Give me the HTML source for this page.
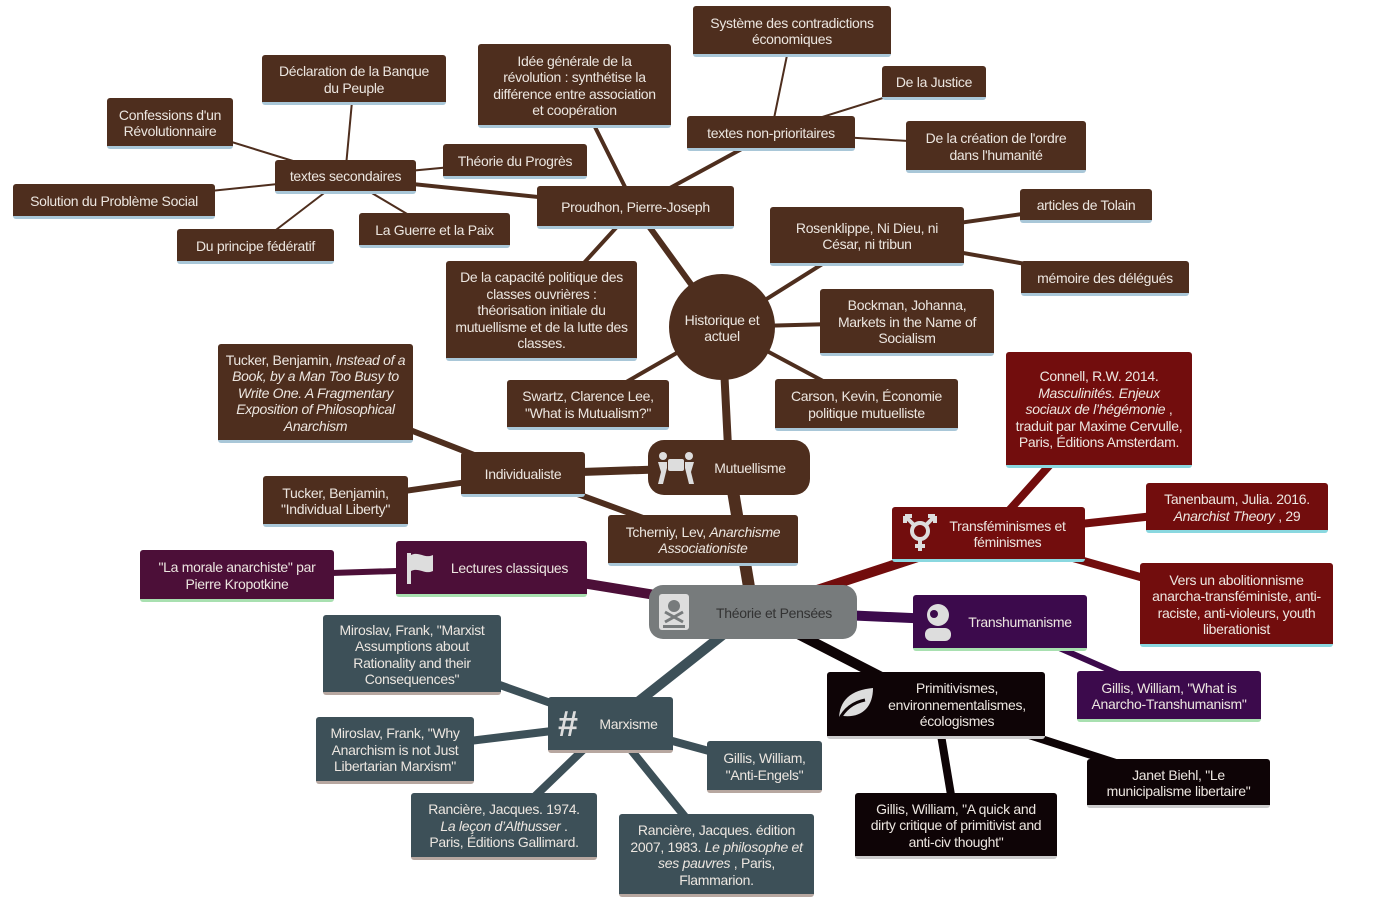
<!DOCTYPE html>
<html><head><meta charset="utf-8"><style>
body{margin:0;width:1376px;height:908px;background:#fff;position:relative;overflow:hidden;font-family:"Liberation Sans",sans-serif}
.b{position:absolute;box-sizing:border-box;display:flex;align-items:center;justify-content:center;text-align:center;color:#ece6e0;font-size:14px;line-height:16.5px;background:#4e2e1e;border-radius:3px;border-bottom:3px solid #a9c7d8;padding:2px 8px 0;letter-spacing:-0.3px}
.r{background:#720d0d;border-bottom-color:#8ad8e0}
.p{background:#4c0f38;border-bottom-color:#a8e0b0}
.v{background:#3c0a4c;border-bottom-color:#a8e0b0}
.k{background:#0e0406;border-bottom-color:#ccc}
.s{background:#3d5058;border-bottom-color:#b7a7a0}
i{font-style:italic}
.ic{position:absolute;left:8px;top:50%;transform:translateY(-50%)}
svg{position:absolute;left:0;top:0}
</style></head><body>
<svg width="1376" height="908">
<g stroke-linecap="round" fill="none">
<g stroke="#4e2e1e">
<line x1="345" y1="177" x2="354" y2="80" stroke-width="2"/>
<line x1="345" y1="177" x2="170" y2="123" stroke-width="2"/>
<line x1="345" y1="177" x2="114" y2="201" stroke-width="2"/>
<line x1="345" y1="177" x2="255" y2="246" stroke-width="2"/>
<line x1="345" y1="177" x2="434" y2="230" stroke-width="2"/>
<line x1="345" y1="177" x2="515" y2="161" stroke-width="2"/>
<line x1="345" y1="177" x2="635" y2="207" stroke-width="4"/>
<line x1="635" y1="207" x2="574" y2="85" stroke-width="4"/>
<line x1="635" y1="207" x2="771" y2="133" stroke-width="4"/>
<line x1="771" y1="133" x2="792" y2="31" stroke-width="2"/>
<line x1="771" y1="133" x2="934" y2="82" stroke-width="2"/>
<line x1="771" y1="133" x2="996" y2="146" stroke-width="2"/>
<line x1="635" y1="207" x2="541" y2="310" stroke-width="4"/>
<line x1="635" y1="207" x2="722" y2="327" stroke-width="6"/>
<line x1="722" y1="327" x2="867" y2="236" stroke-width="4"/>
<line x1="867" y1="236" x2="1086" y2="205" stroke-width="4"/>
<line x1="867" y1="236" x2="1105" y2="278" stroke-width="4"/>
<line x1="722" y1="327" x2="907" y2="322" stroke-width="4"/>
<line x1="722" y1="327" x2="866" y2="404" stroke-width="4"/>
<line x1="722" y1="327" x2="588" y2="404" stroke-width="4"/>
<line x1="722" y1="327" x2="729" y2="467" stroke-width="8"/>
<line x1="729" y1="467" x2="523" y2="474" stroke-width="8"/>
<line x1="523" y1="474" x2="315" y2="393" stroke-width="6"/>
<line x1="523" y1="474" x2="335" y2="501" stroke-width="6"/>
<line x1="523" y1="474" x2="703" y2="540" stroke-width="6"/>
<line x1="729" y1="467" x2="753" y2="611" stroke-width="12"/>
</g>
<line x1="490" y1="568" x2="753" y2="611" stroke="#4c0f38" stroke-width="10"/>
<line x1="237" y1="576" x2="490" y2="568" stroke="#4c0f38" stroke-width="6"/>
<g stroke="#720d0d">
<line x1="753" y1="611" x2="988" y2="534" stroke-width="10"/>
<line x1="988" y1="534" x2="1099" y2="410" stroke-width="8"/>
<line x1="988" y1="534" x2="1237" y2="507" stroke-width="8"/>
<line x1="988" y1="534" x2="1236" y2="604" stroke-width="8"/>
</g>
<line x1="753" y1="611" x2="1000" y2="622" stroke="#3c0a4c" stroke-width="10"/>
<line x1="1000" y1="622" x2="1169" y2="696" stroke="#3c0a4c" stroke-width="6"/>
<g stroke="#0e0406">
<line x1="753" y1="611" x2="936" y2="705" stroke-width="10"/>
<line x1="936" y1="705" x2="1178" y2="783" stroke-width="8"/>
<line x1="936" y1="705" x2="956" y2="825" stroke-width="8"/>
</g>
<g stroke="#3d5058">
<line x1="753" y1="611" x2="610" y2="724" stroke-width="10"/>
<line x1="610" y1="724" x2="412" y2="654" stroke-width="8"/>
<line x1="610" y1="724" x2="395" y2="750" stroke-width="8"/>
<line x1="610" y1="724" x2="764" y2="766" stroke-width="8"/>
<line x1="610" y1="724" x2="504" y2="826" stroke-width="8"/>
<line x1="610" y1="724" x2="716" y2="855" stroke-width="8"/>
</g>
</g>
<circle cx="722" cy="327" r="53" fill="#4e2e1e"/>
</svg>

<div class="b" style="left:262px;top:55px;width:184px;height:50px">Déclaration de la Banque du Peuple</div>
<div class="b" style="left:107px;top:98px;width:126px;height:51px">Confessions d'un Révolutionnaire</div>
<div class="b" style="left:275px;top:160px;width:141px;height:34px">textes secondaires</div>
<div class="b" style="left:13px;top:184px;width:202px;height:35px">Solution du Problème Social</div>
<div class="b" style="left:177px;top:229px;width:157px;height:35px">Du principe fédératif</div>
<div class="b" style="left:359px;top:213px;width:151px;height:35px">La Guerre et la Paix</div>
<div class="b" style="left:443px;top:144px;width:144px;height:35px">Théorie du Progrès</div>
<div class="b" style="left:478px;top:44px;width:193px;height:84px;padding:2px 12px 0">Idée générale de la révolution : synthétise la différence entre association et coopération</div>
<div class="b" style="left:693px;top:6px;width:198px;height:51px">Système des contradictions économiques</div>
<div class="b" style="left:882px;top:66px;width:104px;height:34px">De la Justice</div>
<div class="b" style="left:687px;top:116px;width:168px;height:35px">textes non-prioritaires</div>
<div class="b" style="left:906px;top:121px;width:180px;height:52px;padding:2px 12px 0">De la création de l'ordre dans l'humanité</div>
<div class="b" style="left:537px;top:186px;width:197px;height:43px">Proudhon, Pierre-Joseph</div>
<div class="b" style="left:446px;top:261px;width:191px;height:100px">De la capacité politique des classes ouvrières : théorisation initiale du mutuellisme et de la lutte des classes.</div>
<div class="b" style="left:672px;top:300px;width:100px;height:54px;background:none;border:none">Historique et actuel</div>
<div class="b" style="left:770px;top:207px;width:194px;height:59px;padding:2px 14px 0">Rosenklippe, Ni Dieu, ni César, ni tribun</div>
<div class="b" style="left:1020px;top:189px;width:132px;height:34px">articles de Tolain</div>
<div class="b" style="left:1021px;top:261px;width:168px;height:35px">mémoire des délégués</div>
<div class="b" style="left:820px;top:289px;width:174px;height:67px">Bockman, Johanna, Markets in the Name of Socialism</div>
<div class="b" style="left:775px;top:379px;width:183px;height:52px">Carson, Kevin, Économie politique mutuelliste</div>
<div class="b" style="left:507px;top:380px;width:162px;height:50px">Swartz, Clarence Lee, "What is Mutualism?"</div>
<div class="b" style="left:218px;top:344px;width:195px;height:99px;padding:2px 4px 0"><span><span>Tucker, Benjamin, </span><i>Instead of a Book, by a Man Too Busy to Write One. A Fragmentary Exposition of Philosophical Anarchism</i></span></div>
<div class="b" style="left:461px;top:452px;width:124px;height:45px">Individualiste</div>
<div class="b" style="left:648px;top:440px;width:162px;height:55px;border-radius:16px;border:none;padding-left:50px"><svg class="ic" width="40" height="34" viewBox="0 0 40 34"><g fill="#ddd"><circle cx="7" cy="5" r="4"/><circle cx="33" cy="5" r="4"/><rect x="12" y="8" width="16" height="12" rx="2"/><path d="M2 11h9v6l-4 16H2l3-12zM38 11h-9v6l4 16h5l-3-12z"/></g></svg>Mutuellisme</div>
<div class="b" style="left:263px;top:476px;width:145px;height:51px">Tucker, Benjamin, "Individual Liberty"</div>
<div class="b" style="left:608px;top:515px;width:190px;height:51px"><span>Tcherniy, Lev, <i>Anarchisme Associationiste</i></span></div>
<div class="b p" style="left:396px;top:541px;width:191px;height:56px;padding-left:44px"><svg class="ic" width="32" height="34" viewBox="0 0 32 34"><g fill="#ddd"><rect x="3" y="2" width="4" height="31"/><path d="M7 4c8-4 14 4 22 0v16c-8 4-14-4-22 0z"/></g></svg>Lectures classiques</div>
<div class="b p" style="left:140px;top:550px;width:194px;height:52px">"La morale anarchiste" par Pierre Kropotkine</div>
<div class="b" style="left:649px;top:585px;width:208px;height:54px;background:#777b7c;color:#333;border:none;border-radius:14px;padding-left:50px"><svg class="ic" width="34" height="40" viewBox="0 0 34 40"><rect x="2" y="2" width="30" height="36" rx="3" fill="#ddd"/><g fill="#777b7c"><circle cx="17" cy="14" r="6"/><path d="M8 20l18 10M26 20L8 30" stroke="#777b7c" stroke-width="3"/><rect x="6" y="33" width="22" height="3"/></g></svg>Théorie et Pensées</div>
<div class="b r" style="left:892px;top:507px;width:193px;height:55px;padding-left:46px"><svg class="ic" width="40" height="40" viewBox="0 0 40 40"><g stroke="#ddd" stroke-width="4" fill="none"><circle cx="20" cy="18" r="8"/><path d="M20 26v12M15 33h10M14 12L5 3M26 12l9-9M5 3h7M5 3v7M35 3h-7M35 3v7"/></g></svg>Transféminismes et féminismes</div>
<div class="b r" style="left:1006px;top:352px;width:186px;height:116px"><span>Connell, R.W. 2014. <i>Masculinités. Enjeux sociaux de l’hégémonie</i> , traduit par Maxime Cervulle, Paris, Éditions Amsterdam.</span></div>
<div class="b r" style="left:1146px;top:483px;width:182px;height:50px"><span>Tanenbaum, Julia. 2016. <i>Anarchist Theory</i> , 29</span></div>
<div class="b r" style="left:1140px;top:563px;width:193px;height:84px">Vers un abolitionnisme anarcha-transféministe, anti-raciste, anti-violeurs, youth liberationist</div>
<div class="b v" style="left:913px;top:595px;width:174px;height:56px;padding-left:48px"><svg class="ic" width="34" height="40" viewBox="0 0 34 40"><g fill="#ddd"><circle cx="17" cy="13" r="11"/><rect x="4" y="26" width="26" height="13" rx="6"/></g><circle cx="13" cy="12" r="4" fill="#3c0a4c"/></svg>Transhumanisme</div>
<div class="b v" style="left:1077px;top:671px;width:184px;height:51px">Gillis, William, "What is Anarcho-Transhumanism"</div>
<div class="b k" style="left:827px;top:672px;width:218px;height:67px;padding-left:50px"><svg class="ic" width="40" height="36" viewBox="0 0 40 36"><path d="M4 34C4 14 16 4 38 2c0 20-12 30-30 28z" fill="#ddd"/><path d="M4 34C10 22 20 16 30 14" stroke="#0e0406" stroke-width="3" fill="none"/></svg>Primitivismes, environnementalismes, écologismes</div>
<div class="b k" style="left:1087px;top:759px;width:183px;height:49px">Janet Biehl, "Le municipalisme libertaire"</div>
<div class="b k" style="left:855px;top:793px;width:202px;height:66px">Gillis, William, "A quick and dirty critique of primitivist and anti-civ thought"</div>
<div class="b s" style="left:548px;top:697px;width:125px;height:56px;padding-left:44px"><span class="ic" style="font-size:36px;font-weight:bold;color:#ddd;left:10px">#</span>Marxisme</div>
<div class="b s" style="left:323px;top:615px;width:178px;height:80px">Miroslav, Frank, "Marxist Assumptions about Rationality and their Consequences"</div>
<div class="b s" style="left:316px;top:717px;width:158px;height:67px;padding:2px 4px 0">Miroslav, Frank, "Why Anarchism is not Just Libertarian Marxism"</div>
<div class="b s" style="left:707px;top:741px;width:115px;height:52px">Gillis, William, "Anti-Engels"</div>
<div class="b s" style="left:411px;top:793px;width:186px;height:67px;padding:2px 12px 0"><span>Rancière, Jacques. 1974. <i>La leçon d’Althusser</i> . Paris, Éditions Gallimard.</span></div>
<div class="b s" style="left:619px;top:814px;width:195px;height:83px"><span>Rancière, Jacques. édition 2007, 1983. <i>Le philosophe et ses pauvres</i> , Paris, Flammarion.</span></div>
</body></html>
